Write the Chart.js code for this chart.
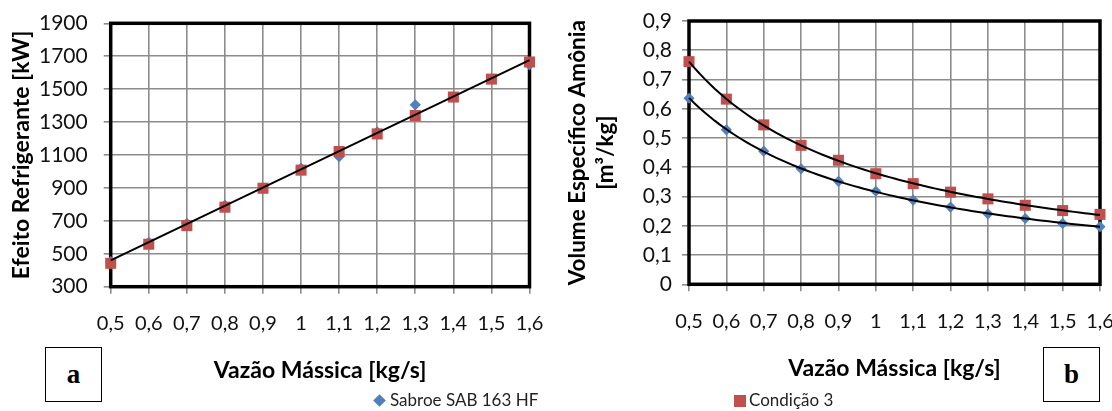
<!DOCTYPE html>
<html>
<head>
<meta charset="utf-8">
<script src="https://cdn.jsdelivr.net/npm/chart.js@4.4.1/dist/chart.umd.min.js"></script>
<style>
  html, body { margin: 0; padding: 0; background: #fff; }
  body { width: 1112px; height: 411px; position: relative; overflow: hidden; font-family: Lato, sans-serif; }
  .wrap { position: absolute; top: 0; width: 556px; height: 411px; }
  .box { position: absolute; border: 1.5px solid #000; box-sizing: border-box; width: 57px; height: 55px; top: 347px;
         font-family: "Liberation Serif", serif; font-weight: bold; font-size: 27px; text-align: center; line-height: 52px; background: #fff; }
  .leg { position: absolute; top: 390px; font-family: Lato, sans-serif; font-size: 17px; color: #222; white-space: nowrap; line-height: 20px; }
  .dia { display: inline-block; width: 9px; height: 9px; background: #4f81bd; transform: rotate(45deg); margin-right: 6px; vertical-align: 1px; }
  .sq { display: inline-block; width: 12px; height: 12px; background: #c0504d; margin-right: 3px; vertical-align: -1px; }
</style>
</head>
<body>
<div class="wrap" style="left:0"><canvas id="cA" width="556" height="411"></canvas></div>
<div class="wrap" style="left:556px"><canvas id="cB" width="556" height="411"></canvas></div>
<div class="box" style="left:45px">a</div>
<div class="box" style="left:1043px">b</div>
<div class="leg" style="left:375px"><span class="dia"></span>Sabroe SAB 163 HF</div>
<div class="leg" style="left:734px"><span class="sq"></span>Condição 3</div>
<script>
// ---- data ----
const massFlow = [0.5, 0.6, 0.7, 0.8, 0.9, 1.0, 1.1, 1.2, 1.3, 1.4, 1.5, 1.6];
const effectSabroe = [452, 570, 685, 795, 898, 1020, 1090, 1240, 1405, 1455, 1562, 1648];
const effectCond3  = [442, 558, 671, 783, 898, 1008, 1121, 1228, 1340, 1452, 1561, 1665];
const volumeSabroe = [0.636, 0.528, 0.455, 0.395, 0.352, 0.318, 0.288, 0.264, 0.241, 0.225, 0.208, 0.197];
const volumeCond3  = [0.761, 0.633, 0.545, 0.475, 0.424, 0.378, 0.344, 0.315, 0.292, 0.270, 0.252, 0.239];
const xTicks = [0.5, 0.6, 0.7, 0.8, 0.9, 1.0, 1.1, 1.2, 1.3, 1.4, 1.5, 1.6];
const yTicksA = [300, 500, 700, 900, 1100, 1300, 1500, 1700, 1900];
const yTicksB = [0, 0.1, 0.2, 0.3, 0.4, 0.5, 0.6, 0.7, 0.8, 0.9];
const seriesNames = ['Sabroe SAB 163 HF', 'Condição 3'];

// ---- trendline fits (computed from the data arrays, like the spreadsheet trendlines) ----
function linFit(xs, ys) {
  const n = xs.length, mx = xs.reduce((a,b)=>a+b,0)/n, my = ys.reduce((a,b)=>a+b,0)/n;
  let sxy = 0, sxx = 0;
  xs.forEach((x,i)=>{ sxy += (x-mx)*(ys[i]-my); sxx += (x-mx)*(x-mx); });
  const b = sxy/sxx, a = my - b*mx;
  return x => a + b*x;
}
function powFit(xs, ys) {
  const lx = xs.map(Math.log), ly = ys.map(Math.log);
  const f = linFit(lx, ly);
  return x => Math.exp(f(Math.log(x)));
}
function sample(f, xs, n) {
  const x0 = Math.min(...xs), x1 = Math.max(...xs), out = [];
  for (let i = 0; i <= n; i++) { const x = x0 + (x1-x0)*i/n; out.push({x, y: f(x)}); }
  return out;
}
const pts = ys => massFlow.map((x,i)=>({x, y: ys[i]}));
const fmt = v => String(Math.round(v*10)/10).replace('.', ',');

Chart.defaults.font.family = 'Lato, sans-serif';
Chart.defaults.color = '#111';

const frame = {
  id: 'frame',
  beforeDatasetsDraw(chart) {
    const a = chart.chartArea, ctx = chart.ctx;
    ctx.save(); ctx.strokeStyle = '#000'; ctx.lineWidth = 3.5;
    ctx.strokeRect(a.left, a.top, a.right - a.left, a.bottom - a.top);
    ctx.restore();
  }
};

function makeChart(id, cfg) {
  const ds = [
    { label: 'trend1', data: cfg.trend1, showLine: true, borderColor: '#000', borderWidth: 2, pointRadius: 0, order: 0, clip: false },
    { label: seriesNames[1], data: pts(cfg.s2), backgroundColor: '#c0504d', borderColor: '#c0504d', pointStyle: 'rect', pointRadius: 7.8, borderWidth: 0, order: 2, clip: false },
    { label: seriesNames[0], data: pts(cfg.s1), backgroundColor: '#4f81bd', borderColor: '#4f81bd', pointStyle: 'rectRot', pointRadius: 5.6, borderWidth: 0, order: 3, clip: false }
  ];
  if (cfg.trend2) ds.push({ label: 'trend2', data: cfg.trend2, showLine: true, borderColor: '#000', borderWidth: 2, pointRadius: 0, order: 1, clip: false });
  return new Chart(document.getElementById(id), {
    type: 'scatter',
    data: { datasets: ds },
    plugins: [frame],
    options: {
      responsive: false, animation: false, events: [],
      layout: { padding: cfg.pad },
      plugins: { legend: { display: false }, tooltip: { enabled: false } },
      scales: {
        x: {
          type: 'linear', min: 0.5, max: 1.6,
          afterBuildTicks: s => { s.ticks = xTicks.map(v => ({ value: v })); },
          afterFit: s => { s.height = cfg.xh; s.paddingLeft = 0; s.paddingRight = 0; },
          grid: { color: '#8c8c8c', lineWidth: 1.6, tickLength: 7, drawTicks: true },
          border: { display: false },
          ticks: { font: { size: 20 }, padding: cfg.xpad, maxRotation: 0, autoSkip: false, callback: v => fmt(v) },
          title: { display: true, text: 'Vazão Mássica [kg/s]', font: { size: 23, weight: 'bold' }, color: '#000', padding: { top: 0, bottom: cfg.xtpad } }
        },
        y: {
          type: 'linear', min: cfg.ymin, max: cfg.ymax,
          afterBuildTicks: s => { s.ticks = cfg.yt.map(v => ({ value: v })); },
          afterFit: s => { s.width = cfg.yw; s.paddingTop = 0; s.paddingBottom = 0; },
          grid: { color: '#8c8c8c', lineWidth: 1.6, tickLength: 7 },
          border: { display: false },
          ticks: { font: { size: 21 }, padding: cfg.ypad, autoSkip: false, callback: cfg.yfmt },
          title: { display: true, text: cfg.ytitle, font: { size: cfg.ytsize, weight: 'bold', lineHeight: cfg.ylh }, color: '#000', padding: { top: cfg.ytpad, bottom: 0 } }
        }
      }
    }
  });
}

makeChart('cA', {
  s1: effectSabroe, s2: effectCond3,
  trend1: sample(linFit(massFlow, effectSabroe), massFlow, 1),
  pad: { left: 0, top: 23.3, right: 26.5, bottom: 0 },
  xh: 411 - 286.7, yw: 110.7, xpad: 17.6, ypad: 16, xtpad: 27, ytpad: 8,
  ymin: 300, ymax: 1900, yt: yTicksA, yfmt: v => String(v),
  ytitle: 'Efeito Refrigerante [kW]', ytsize: 23, ylh: 1.2
});
makeChart('cB', {
  s1: volumeSabroe, s2: volumeCond3,
  trend1: sample(powFit(massFlow, volumeCond3), massFlow, 80),
  trend2: sample(powFit(massFlow, volumeSabroe), massFlow, 80),
  pad: { left: 0, top: 21, right: 12, bottom: 0 },
  xh: 411 - 284.3, yw: 133, xpad: 18.7, ypad: 10, xtpad: 29, ytpad: 8,
  ymin: 0, ymax: 0.9, yt: yTicksB, yfmt: v => fmt(v),
  ytitle: ['Volume Específico Amônia', '[m³/kg]'], ytsize: 22.5, ylh: '28px'
});
</script>
</body>
</html>
